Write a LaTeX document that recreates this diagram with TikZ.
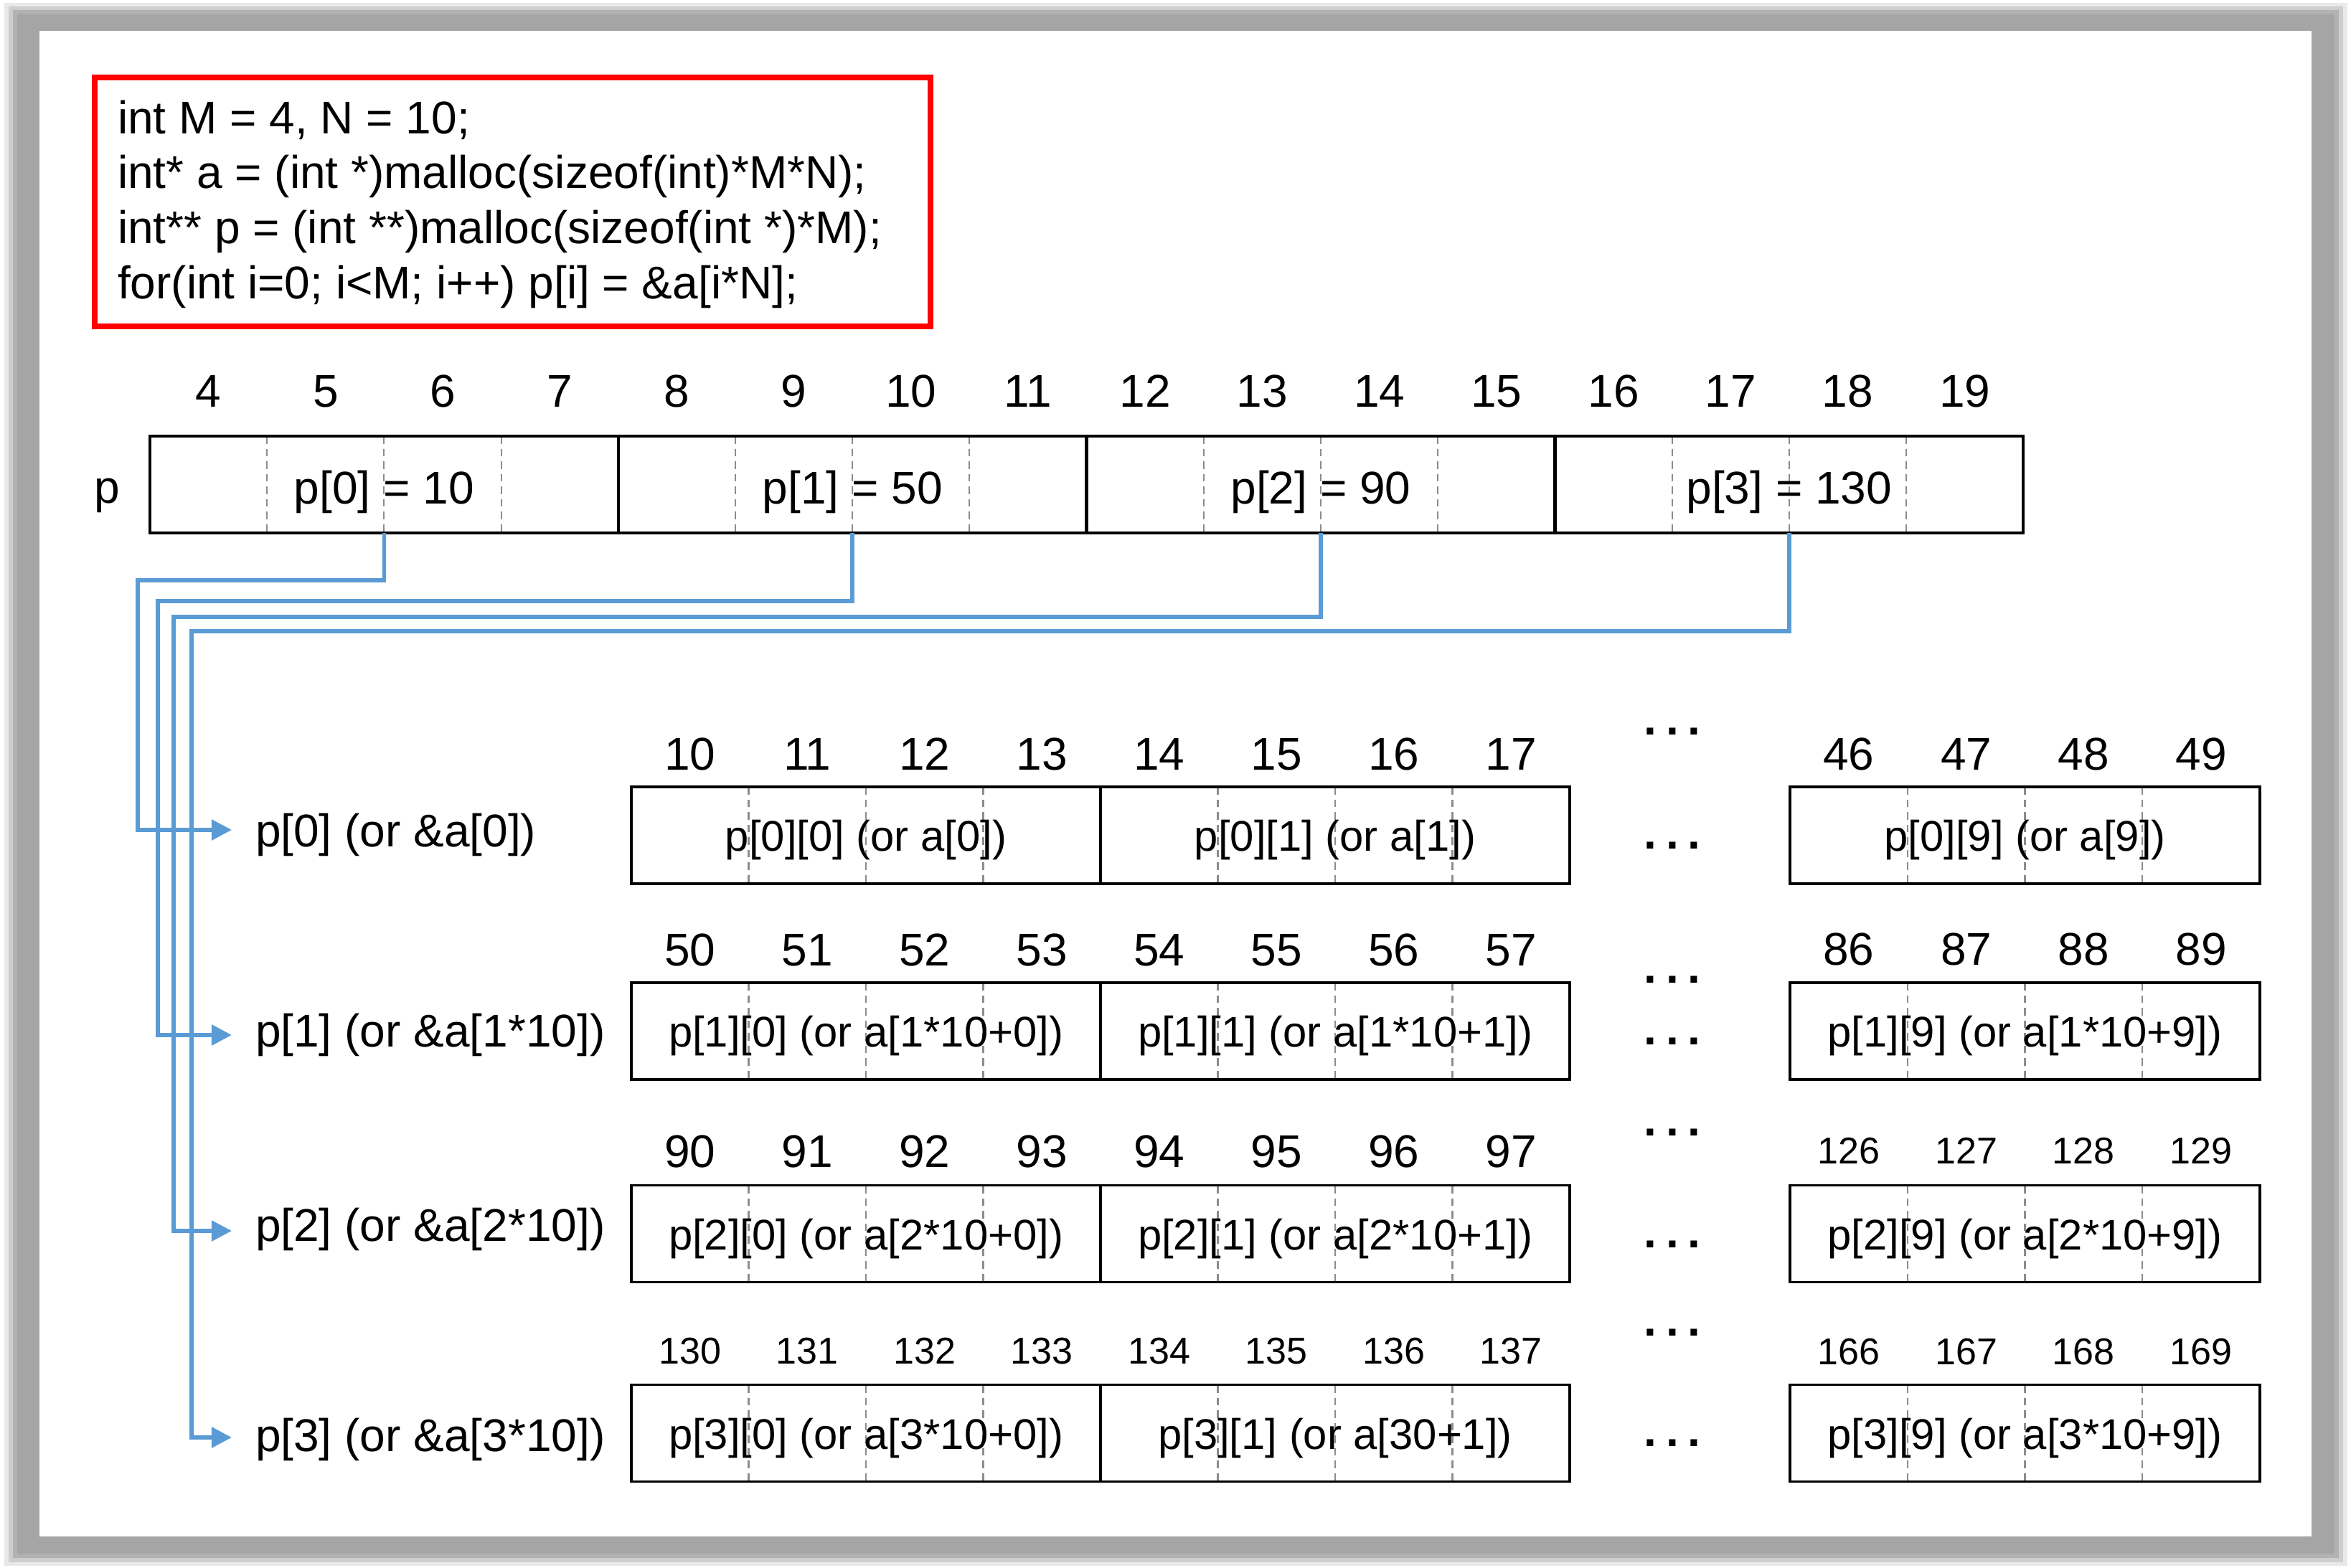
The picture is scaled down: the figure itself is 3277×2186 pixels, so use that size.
\documentclass[tikz,border=0pt]{standalone}
\usepackage{fontspec}
\setmainfont{Liberation Sans}
\usetikzlibrary{arrows.meta}
\definecolor{connblue}{HTML}{5B9BD5}
\definecolor{framegray}{HTML}{A5A5A5}
\begin{document}
\begin{tikzpicture}[x=0.01cm,y=-0.01cm,
  every node/.style={inner sep=0pt,outer sep=0pt},
  bigfont/.style={font=\fontsize{18.2pt}{22pt}\selectfont},
  cellfont/.style={font=\fontsize{17pt}{20pt}\selectfont},
  pelem/.style={draw,line width=1.1pt,minimum width=6.528cm,minimum height=1.35cm,bigfont,text height=0.63cm,text depth=0.1cm},
  aelem/.style={draw,line width=1.1pt,minimum width=6.54cm,minimum height=1.35cm,cellfont,text height=0.54cm,text depth=0.1cm},
  divider/.style={draw=black!45,line width=0.6pt,dash pattern=on 3pt off 2pt},
  conn/.style={draw=connblue,line width=1.6pt,-{Triangle[length=0.28cm,width=0.28cm]}},
  dotsfont/.style={font=\fontsize{18.2pt}{22pt}\selectfont\bfseries},
  codebox/.style={draw=red,line width=2.3pt,minimum width=11.65cm,minimum height=3.47cm}
]
\useasboundingbox (0,0) rectangle (3277,2186);
% frame with soft shadow
\fill[framegray!25] (6,4) rectangle (3272,2183);
\fill[framegray!55] (12,9) rectangle (3266,2178);
\fill[framegray!85] (18,14) rectangle (3260,2172);
\fill[framegray] (24,20) rectangle (3254,2166);
\fill[white] (55,43) rectangle (3222,2142);

% code box
\node[codebox] (cbox) at (714.5,281.5) {};
\node[bigfont,anchor=base west] (code1) at (164,187) {int M = 4, N = 10;};
\node[bigfont,anchor=base west] (code2) at (164,263) {int* a = (int *)malloc(sizeof(int)*M*N);};
\node[bigfont,anchor=base west] (code3) at (164,340) {int** p = (int **)malloc(sizeof(int *)*M);};
\node[bigfont,anchor=base west] (code4) at (164,417) {for(int i=0; i<M; i++) p[i] = \&a[i*N];};

% p row
\node[bigfont,anchor=base] (plab) at (149,702) {p};
\foreach \k in {1,2,3,5,6,7,9,10,11,13,14,15}
  \draw[divider] ({209+\k*163.2},608) -- ++(0,135);
\node[pelem] (p0) at (535.4,675.5) {p[0] = 10};
\node[pelem] (p1) at (1188.2,675.5) {p[1] = 50};
\node[pelem] (p2) at (1841.0,675.5) {p[2] = 90};
\node[pelem] (p3) at (2493.8,675.5) {p[3] = 130};
\foreach \k in {0,...,15} {
  \pgfmathtruncatemacro\n{\k+4}
  \node[bigfont,anchor=base] (pn\k) at ({209+(\k+0.5)*163.2},568) {\n};
}

% array rows: dividers
\foreach \yt in {1097,1370,1653,1931} {
  \foreach \k in {1,2,3,5,6,7}
    \draw[divider] ({880+\k*163.5},\yt) -- ++(0,135);
  \foreach \k in {1,2,3}
    \draw[divider] ({2495+\k*163.75},\yt) -- ++(0,135);
}
% array rows: elements
\node[aelem] (r0a) at (1207,1164.5) {p[0][0] (or a[0])};
\node[aelem] (r0b) at (1861,1164.5) {p[0][1] (or a[1])};
\node[aelem] (r0c) at (2822.5,1164.5) {p[0][9] (or a[9])};
\node[aelem] (r1a) at (1207,1437.5) {p[1][0] (or a[1*10+0])};
\node[aelem] (r1b) at (1861,1437.5) {p[1][1] (or a[1*10+1])};
\node[aelem] (r1c) at (2822.5,1437.5) {p[1][9] (or a[1*10+9])};
\node[aelem] (r2a) at (1207,1720) {p[2][0] (or a[2*10+0])};
\node[aelem] (r2b) at (1861,1720) {p[2][1] (or a[2*10+1])};
\node[aelem] (r2c) at (2822.5,1720) {p[2][9] (or a[2*10+9])};
\node[aelem] (r3a) at (1207,1998) {p[3][0] (or a[3*10+0])};
\node[aelem] (r3b) at (1861,1998) {p[3][1] (or a[30+1])};
\node[aelem] (r3c) at (2822.5,1998) {p[3][9] (or a[3*10+9])};

% array rows: address numbers
\foreach \r/\base/\bb/\yb/\ybr/\fl/\fr in {0/10/46/1074/1074/18.2pt/18.2pt,1/50/86/1347/1346/18.2pt/18.2pt,2/90/126/1628/1623/18.2pt/14.8pt,3/130/166/1902/1903/14.8pt/14.8pt} {
  \foreach \k in {0,...,7} {
    \pgfmathtruncatemacro\n{\base+\k}
    \node[font=\fontsize{\fl}{20pt}\selectfont,anchor=base] (a\r-n\k) at ({880+(\k+0.5)*163.5},\yb) {\n};
  }
  \foreach \k in {0,...,3} {
    \pgfmathtruncatemacro\n{\bb+\k}
    \node[font=\fontsize{\fr}{20pt}\selectfont,anchor=base] (a\r-m\k) at ({2495+(\k+0.5)*163.75},\ybr) {\n};
  }
}

% ellipsis marks
\foreach \i/\y in {0/1020,1/1179,2/1366,3/1452,4/1579,5/1735,6/1858,7/2012}
  \node[dotsfont] (dots\i) at (2331,\y) {.\hspace{0.13cm}.\hspace{0.13cm}.};

% row labels
\node[bigfont,anchor=base west] (L0) at (356,1181) {p[0] (or \&a[0])};
\node[bigfont,anchor=base west] (L1) at (356,1460) {p[1] (or \&a[1*10])};
\node[bigfont,anchor=base west] (L2) at (356,1731) {p[2] (or \&a[2*10])};
\node[bigfont,anchor=base west] (L3) at (356,2024) {p[3] (or \&a[3*10])};

% connectors
\coordinate (b0) at (192,809);
\coordinate (b1) at (220,838);
\coordinate (b2) at (242,860);
\coordinate (b3) at (267,880);
\coordinate (t0) at (323,1157);
\coordinate (t1) at (323,1443);
\coordinate (t2) at (323,1716);
\coordinate (t3) at (323,2004);
\draw[conn] (p0.south) |- (b0) |- (t0);
\draw[conn] (p1.south) |- (b1) |- (t1);
\draw[conn] (p2.south) |- (b2) |- (t2);
\draw[conn] (p3.south) |- (b3) |- (t3);
\end{tikzpicture}
\end{document}
